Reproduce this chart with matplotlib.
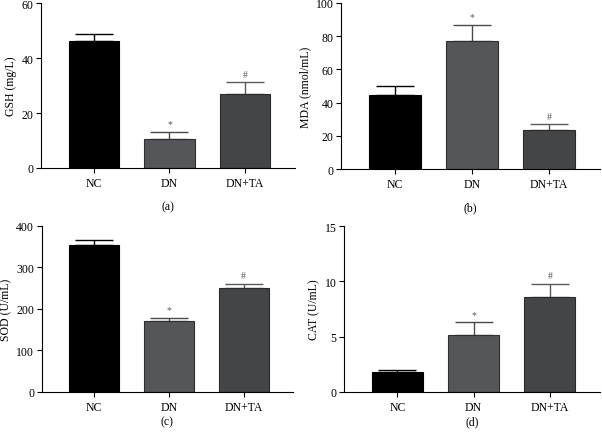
import matplotlib.pyplot as plt

plt.rcParams['font.family'] = ['Liberation Serif', 'DejaVu Serif']

groups = ['NC', 'DN', 'DN+TA']

gsh = [46.3, 10.5, 27.0]
gsh_err = [2.5, 2.7, 4.3]

mda = [44.7, 76.9, 23.6]
mda_err = [5.5, 10.0, 3.5]

sod = [354, 171, 251]
sod_err = [11, 8, 10]

cat = [1.75, 5.1, 8.6]
cat_err = [0.25, 1.2, 1.2]

marks = ['', '*', '#']
bar_colors = ['#000000', '#55565a', '#444547']
edge_colors = ['#000000', '#2e2e30', '#2a2a2b']
err_colors = ['#000000', '#4a4a4c', '#5a5a5c']

panels = [
    (gsh, gsh_err, 'GSH (mg/L)', 60, 20, '(a)', -0.23, [0.068, 0.6115, 0.422, 0.379]),
    (mda, mda_err, 'MDA (nmol/mL)', 100, 20, '(b)', -0.23, [0.5664, 0.609, 0.430, 0.382]),
    (sod, sod_err, 'SOD (U/mL)', 400, 100, '(c)', -0.176, [0.0693, 0.0972, 0.4174, 0.381]),
    (cat, cat_err, 'CAT (U/mL)', 15, 5, '(d)', -0.176, [0.5714, 0.0972, 0.4256, 0.3803]),
]

fig = plt.figure(figsize=(6.02, 4.35), dpi=100)

for vals, errs, ylabel, ymax, step, tag, tag_y, pos in panels:
    ax = fig.add_axes(pos)
    x = range(len(groups))
    ax.bar(x, vals, width=0.67, color=bar_colors, edgecolor=edge_colors, linewidth=0.8, zorder=2)
    for i in x:
        ax.errorbar(i, vals[i], yerr=[[0], [errs[i]]], fmt='none', ecolor=err_colors[i],
                    elinewidth=1.0, capsize=14, capthick=1.0, zorder=1)
        if marks[i]:
            ax.text(i, vals[i] + errs[i] + ymax * 0.02, marks[i], ha='center', va='bottom',
                    fontsize=7, color='#555555')
    ax.set_xlim(-0.7, 2.66)
    ax.set_ylim(0, ymax)
    ax.set_yticks(range(0, ymax + 1, step))
    ax.set_xticks(list(x))
    ax.set_xticklabels(groups)
    ax.set_ylabel(ylabel, fontsize=8.5, labelpad=3)
    ax.tick_params(labelsize=8.5, length=3.5, width=0.8)
    ax.tick_params(axis='y', pad=2)
    ax.tick_params(axis='x', pad=3)
    for s in ['top', 'right']:
        ax.spines[s].set_visible(False)
    for s in ['left', 'bottom']:
        ax.spines[s].set_linewidth(0.8)
    ax.text(0.5, tag_y, tag, transform=ax.transAxes, ha='center', va='center', fontsize=8.5)

fig.savefig('out.png', dpi=100)
